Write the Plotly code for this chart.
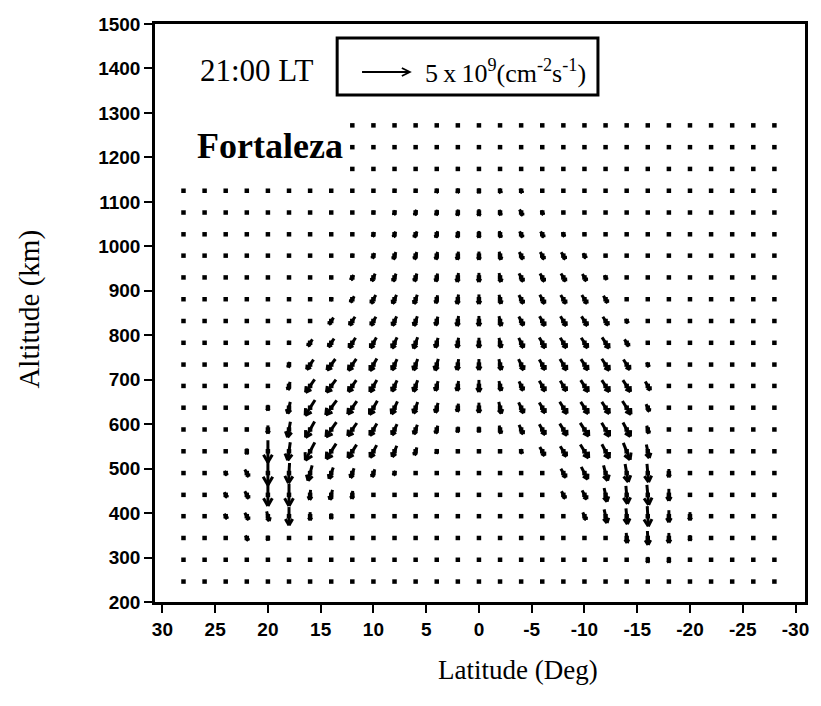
import math
import plotly.graph_objects as go

N = None

# ---------------- data ----------------
LATITUDES = [28, 26, 24, 22, 20, 18, 16, 14, 12, 10, 8, 6, 4, 2, 0,
             -2, -4, -6, -8, -10, -12, -14, -16, -18, -20, -22, -24, -26, -28]
ALTITUDES = [1272, 1223, 1174, 1125, 1076, 1027, 979, 930, 881, 832, 783,
             734, 686, 637, 588, 539, 490, 441, 393, 344, 295, 246]

# flux magnitude, units of 1e9 cm^-2 s^-1 (rows = ALTITUDES, cols = LATITUDES)
FLUX_MAG = [
    [N, N, N, N, N, N, N,  N, .15, .15, .15, .15, .15, .2,  .2, .15, .15, .15, .15, .15, .15,  .15, .15, .15, .15, .15, .15, .15, .15],
    [N, N, N, N, N, N, N,  N, .15, .15, .15, .15, .15, .25,  .2, .2, .15, .15, .15, .15, .15,  .15, .15, .15, .15, .15, .15, .15, .15],
    [N, N, N, N, N, N, N,  N, .15, .15, .15, .15, .2, .4,  .3, .3, .3, .15, .15, .15, .15,  .15, .15, .15, .15, .15, .15, .15, .15],
    [.15, .15, .15, .15, .15, .15, .15,  .15, .15, .3, .4, .4, .45, .5,  .5, .5, .5, .3, .15, .15, .15,  .15, .15, .15, .15, .15, .15, .15, .15],
    [.15, .15, .15, .15, .15, .15, .15,  .15, .15, .4, .5, .6, .6, .65,  .7, .6, .7, .5, .3, .15, .15,  .15, .15, .15, .15, .15, .15, .15, .15],
    [.15, .15, .15, .15, .15, .15, .15,  .15, .3, .5, .6, .7, .7, .7,  .7, .7, .7, .7, .5, .3, .15,  .15, .15, .15, .15, .15, .15, .15, .15],
    [.15, .15, .15, .15, .15, .15, .15,  .15, .4, .6, .8, .8, .8, .85,  .85, .85, .85, .85, .85, .6, .3,  .15, .15, .15, .15, .15, .15, .15, .15],
    [.15, .15, .15, .15, .15, .15, .15,  .3, .6, .85, .85, .85, .85, .95,  .95, .95, .95, .95, .95, .85, .5,  .15, .15, .15, .15, .15, .15, .15, .15],
    [.15, .15, .15, .15, .15, .15, .15,  .4, .75, 1.0, 1.0, 1.0, .85, 1.0,  1.0, .95, 1.0, 1.05, 1.05, 1.05, .85,  .3, .15, .15, .15, .15, .15, .15, .15],
    [.15, .15, .15, .15, .15, .15, .3,  .85, 1.05, 1.05, 1.05, 1.05, .95, 1.05,  1.05, 1.05, 1.05, 1.15, 1.15, 1.15, 1.05,  .5, .15, .15, .15, .15, .15, .15, .15],
    [.15, .15, .15, .15, .15, .4, .85,  1.05, 1.25, 1.25, 1.25, 1.25, 1.05, 1.05,  1.05, 1.05, 1.15, 1.25, 1.25, 1.25, 1.35,  .85, .3, .15, .15, .15, .15, .15, .15],
    [.15, .15, .15, .15, .15, .6, 1.25,  1.45, 1.45, 1.45, 1.25, 1.25, 1.25, 1.15,  1.15, 1.15, 1.25, 1.25, 1.35, 1.35, 1.45,  1.25, .5, .15, .15, .15, .15, .15, .15],
    [.15, .15, .15, .15, .4, .85, 1.65,  1.65, 1.45, 1.45, 1.25, 1.25, 1.05, 1.05,  1.25, 1.05, 1.05, 1.25, 1.25, 1.45, 1.45,  1.45, 1.05, .2, .15, .15, .15, .15, .15],
    [.15, .15, .15, .3, .6, 1.25, 1.9,  1.9, 1.65, 1.65, 1.45, 1.25, 1.05, .85,  1.05, 1.25, 1.25, 1.25, 1.45, 1.45, 1.45,  1.65, .85, .15, .15, .15, .15, .15, .15],
    [.15, .15, .15, .4, .85, 1.65, 1.9,  1.9, 1.65, 1.45, 1.25, 1.05, .85, .6,  .6, .85, 1.05, 1.25, 1.45, 1.65, 1.65,  1.65, .85, .15, .15, .15, .15, .15, .15],
    [.15, .15, .2, .6, 2.3, 1.9, 2.1,  1.9, 1.65, 1.45, 1.25, .85, .5, .4,  .4, .4, .5, 1.05, 1.25, 1.65, 1.65,  1.9, 1.45, .2, .15, .15, .15, .15, .15],
    [.15, .2, .5, .85, 2.5, 2.1, 1.65,  1.25, 1.05, .85, .5, .15, .15, .15,  .15, .15, .3, .3, 1.05, 1.45, 1.65,  1.9, 1.9, .85, .2, .15, .15, .15, .15],
    [.15, .2, .6, .85, 2.3, 2.3, 1.05,  1.05, .85, .3, .15, .15, .15, .15,  .15, .15, .15, .15, .85, 1.05, 1.45,  1.9, 2.1, 1.25, .2, .15, .15, .15, .15],
    [.15, .15, .6, .85, 1.05, 1.9, .85,  .6, .3, .15, .15, .15, .15, .15,  .15, .15, .15, .15, .3, .85, 1.45,  1.65, 2.1, 1.25, .85, .15, .15, .15, .15],
    [.15, .15, .15, .6, .5, .15, .15,  .15, .15, .15, .15, .15, .15, .15,  .15, .15, .15, .15, .15, .15, .3,  1.05, 1.45, 1.05, .6, .15, .15, .15, .15],
    [.15, .15, .15, .15, .15, .15, .15,  .15, .15, .15, .15, .15, .15, .15,  .15, .15, .15, .15, .15, .15, .15,  .15, .6, .6, .4, .15, .15, .15, .15],
    [.15, .15, .15, .15, .15, .15, .15,  .15, .15, .15, .15, .15, .15, .15,  .15, .15, .15, .15, .15, .15, .15,  .15, .15, .15, .15, .15, .15, .15, .15],
]

# flux direction, degrees from straight down, positive = toward north (higher latitude)
FLUX_DIR = [
    [N, N, N, N, N, N, N,  N, 0, 0, 0, 0, 0, -15,  0, -15, 0, 0, 0, 0, 0,  0, 0, 0, 0, 0, 0, 0, 0],
    [N, N, N, N, N, N, N,  N, 0, 0, 0, 0, 0, -15,  0, -20, 0, 0, 0, 0, 0,  0, 0, 0, 0, 0, 0, 0, 0],
    [N, N, N, N, N, N, N,  N, 0, 0, 0, 0, 10, 8,  0, -20, -25, 0, 0, 0, 0,  0, 0, 0, 0, 0, 0, 0, 0],
    [0, 0, 0, 0, 0, 0, 0,  0, 0, 17, 17, 17, 15, 10,  0, -20, -30, -30, 0, 0, 0,  0, 0, 0, 0, 0, 0, 0, 0],
    [0, 0, 0, 0, 0, 0, 0,  0, 0, 17, 17, 17, 12, 8,  0, -12, -30, -30, -30, 0, 0,  0, 0, 0, 0, 0, 0, 0, 0],
    [0, 0, 0, 0, 0, 0, 0,  0, 17, 20, 20, 25, 15, 8,  0, -12, -28, -30, -30, -30, 0,  0, 0, 0, 0, 0, 0, 0, 0],
    [0, 0, 0, 0, 0, 0, 0,  0, 25, 22, 20, 18, 12, 8,  0, -12, -28, -30, -32, -32, -30,  0, 0, 0, 0, 0, 0, 0, 0],
    [0, 0, 0, 0, 0, 0, 0,  30, 30, 25, 22, 18, 12, 8,  0, -12, -28, -30, -32, -32, -32,  0, 0, 0, 0, 0, 0, 0, 0],
    [0, 0, 0, 0, 0, 0, 0,  30, 33, 30, 25, 20, 12, 8,  0, -12, -28, -30, -32, -32, -32,  -30, 0, 0, 0, 0, 0, 0, 0],
    [0, 0, 0, 0, 0, 0, 30,  35, 33, 30, 25, 20, 14, 8,  0, -12, -28, -30, -32, -33, -33,  -33, 0, 0, 0, 0, 0, 0, 0],
    [0, 0, 0, 0, 0, 20, 35,  35, 33, 30, 25, 20, 15, 8,  0, -12, -26, -30, -32, -33, -33,  -33, -30, 0, 0, 0, 0, 0, 0],
    [0, 0, 0, 0, 0, 15, 35,  37, 35, 30, 25, 20, 15, 8,  0, -12, -26, -30, -32, -33, -33,  -33, -30, 0, 0, 0, 0, 0, 0],
    [0, 0, 0, 0, 0, 15, 35,  37, 35, 30, 25, 20, 15, 8,  0, -12, -25, -30, -32, -33, -33,  -33, -30, 0, 0, 0, 0, 0, 0],
    [0, 0, 0, 0, 0, 12, 33,  37, 35, 30, 25, 20, 15, 8,  0, -12, -25, -30, -32, -33, -33,  -33, -25, 0, 0, 0, 0, 0, 0],
    [0, 0, 0, 0, 0, 10, 30,  35, 35, 30, 25, 20, 15, 8,  0, -12, -25, -30, -32, -33, -30,  -28, -15, 0, 0, 0, 0, 0, 0],
    [0, 0, 0, 0, 0, 8, 28,  33, 33, 28, 22, 18, 10, 0,  0, 0, -25, -30, -32, -32, -28,  -22, -12, 0, 0, 0, 0, 0, 0],
    [0, 0, -30, -30, 0, 3, 15,  20, 20, 20, 25, 0, 0, 0,  0, 0, -20, -20, -30, -28, -15,  -10, -5, 0, 0, 0, 0, 0, 0],
    [0, 0, -30, -30, 0, 0, 5,  15, 5, 0, 0, 0, 0, 0,  0, 0, 0, 0, -28, -28, -12,  -5, -5, 0, 0, 0, 0, 0, 0],
    [0, 0, -30, -30, -15, 0, 0,  0, 20, 0, 0, 0, 0, 0,  0, 0, 0, 0, 0, -25, -12,  -5, -3, 0, 0, 0, 0, 0, 0],
    [0, 0, 0, -30, 0, 0, 0,  0, 0, 0, 0, 0, 0, 0,  0, 0, 0, 0, 0, 0, -10,  -5, -3, 0, 0, 0, 0, 0, 0],
    [0, 0, 0, 0, 0, 0, 0,  0, 0, 0, 0, 0, 0, 0,  0, 0, 0, 0, 0, 0, 0,  0, 0, 0, 0, 0, 0, 0, 0],
    [0, 0, 0, 0, 0, 0, 0,  0, 0, 0, 0, 0, 0, 0,  0, 0, 0, 0, 0, 0, 0,  0, 0, 0, 0, 0, 0, 0, 0],
]

REF_FLUX = 5.0  # reference arrow: 5 x 10^9 cm^-2 s^-1
X_TICKS = [30, 25, 20, 15, 10, 5, 0, -5, -10, -15, -20, -25, -30]
X_TICK_TEXT = ["30", "25", "20", "15", "10", "5", "0", "-5", "-10", "-15", "-20", "-25", "-30"]
Y_TICKS = [200, 300, 400, 500, 600, 700, 800, 900, 1000, 1100, 1200, 1300, 1400, 1500]

for r in FLUX_MAG:
    assert len(r) == len(LATITUDES), len(r)
for r in FLUX_DIR:
    assert len(r) == len(LATITUDES), len(r)
assert len(FLUX_MAG) == len(ALTITUDES) == len(FLUX_DIR)

# ---------------- layout geometry ----------------
W, H = 821, 706
ML, MR, MT, MB = 155, 13, 24, 104
X_RANGE = [30.7, -30.9]
Y_RANGE = [200, 1500]
PW = W - ML - MR
PH = H - MT - MB
PX_PER_DEG = PW / abs(X_RANGE[1] - X_RANGE[0])
PX_PER_KM = PH / (Y_RANGE[1] - Y_RANGE[0])
PX_PER_UNIT = 48.0 / REF_FLUX
HEAD_FRAC = 0.4
HEAD_ANG = math.radians(30)

xs, ys = [], []
dot_x, dot_y = [], []
for i, alt in enumerate(ALTITUDES):
    for j, lat in enumerate(LATITUDES):
        m = FLUX_MAG[i][j]
        if m is None:
            continue
        th = math.radians(FLUX_DIR[i][j])
        L = m * PX_PER_UNIT
        sx = -L * math.sin(th)   # screen px, rightwards
        sy = L * math.cos(th)    # screen px, downwards

        def to_data(px, py, lat=lat, alt=alt):
            return lat - px / PX_PER_DEG, alt - py / PX_PER_KM

        tail = to_data(-sx / 2, -sy / 2)
        head = to_data(sx / 2, sy / 2)
        dot_x.append(lat)
        dot_y.append(alt)
        xs += [tail[0], head[0], None]
        ys += [tail[1], head[1], None]
        if L >= 4:
            hl = HEAD_FRAC * L
            bx, by = -sx / L, -sy / L
            for s in (1, -1):
                ca, sa = math.cos(s * HEAD_ANG), math.sin(s * HEAD_ANG)
                rx = bx * ca - by * sa
                ry = bx * sa + by * ca
                b = to_data(sx / 2 + rx * hl, sy / 2 + ry * hl)
                xs += [head[0], b[0], None]
                ys += [head[1], b[1], None]

fig = go.Figure()
fig.add_trace(go.Scatter(x=xs, y=ys, mode="lines",
                         line=dict(color="black", width=3),
                         hoverinfo="skip", showlegend=False))
fig.add_trace(go.Scatter(x=dot_x, y=dot_y, mode="markers",
                         marker=dict(color="black", size=4.5, symbol="square"),
                         hoverinfo="skip", showlegend=False))

SERIF = "Liberation Serif"
TICKFONT = dict(family="Liberation Sans", size=19, color="black", weight="bold")

fig.update_xaxes(range=X_RANGE, tickvals=X_TICKS, ticktext=X_TICK_TEXT,
                 ticks="outside", ticklen=8, tickwidth=2, tickcolor="black",
                 showline=True, linewidth=2.5, linecolor="black", mirror=True,
                 showgrid=False, zeroline=False, tickfont=TICKFONT)
fig.update_yaxes(range=Y_RANGE, tickvals=Y_TICKS,
                 ticks="outside", ticklen=8, tickwidth=2, tickcolor="black",
                 showline=True, linewidth=2.5, linecolor="black", mirror=True,
                 showgrid=False, zeroline=False, tickfont=TICKFONT)

def px_to_paper(px, py):
    return (px - ML) / PW, 1 - (py - MT) / PH

def label(text, px, py, size, xanchor="center", bold=False, angle=0):
    x, y = px_to_paper(px, py)
    return dict(text=text, x=x, y=y, xref="paper", yref="paper",
                xanchor=xanchor, yanchor="middle", textangle=angle,
                showarrow=False,
                font=dict(family=SERIF, size=size, color="black",
                          weight="bold" if bold else "normal"))

annotations = [
    label("Latitude (Deg)", 520, 670, 27),
    label("Altitude (km)", 28, 309, 29, angle=-90),
    label("21:00 LT", 257, 70, 31),
    label("Fortaleza", 271, 146, 36, bold=True),
    label("5\u2009x\u200910<sup>9</sup>(cm<sup>-2</sup>s<sup>-1</sup>)", 424, 72, 26,
          xanchor="left"),
]

shapes = []
bx0, by0 = px_to_paper(338, 95)
bx1, by1 = px_to_paper(600, 38)
shapes.append(dict(type="rect", xref="paper", yref="paper", x0=bx0, y0=by0, x1=bx1, y1=by1,
                   line=dict(color="black", width=3)))
# reference arrow (length = REF_FLUX in the same scale as the field arrows)
ref_len = REF_FLUX * PX_PER_UNIT
t_px, t_py = 363, 72
tx, ty = px_to_paper(t_px, t_py)
hx, hy = px_to_paper(t_px + ref_len, t_py)
b1x, b1y = px_to_paper(t_px + ref_len - 8, t_py - 4)
b2x, b2y = px_to_paper(t_px + ref_len - 8, t_py + 4)
shapes.append(dict(type="path", xref="paper", yref="paper",
                   path=f"M {tx},{ty} L {hx},{hy} M {b1x},{b1y} L {hx},{hy} L {b2x},{b2y}",
                   line=dict(color="black", width=1.8)))

fig.update_layout(width=W, height=H, autosize=False,
                  margin=dict(l=ML, r=MR, t=MT, b=MB, pad=0),
                  paper_bgcolor="white", plot_bgcolor="white",
                  annotations=annotations, shapes=shapes, showlegend=False)

fig.write_html("out.html")
